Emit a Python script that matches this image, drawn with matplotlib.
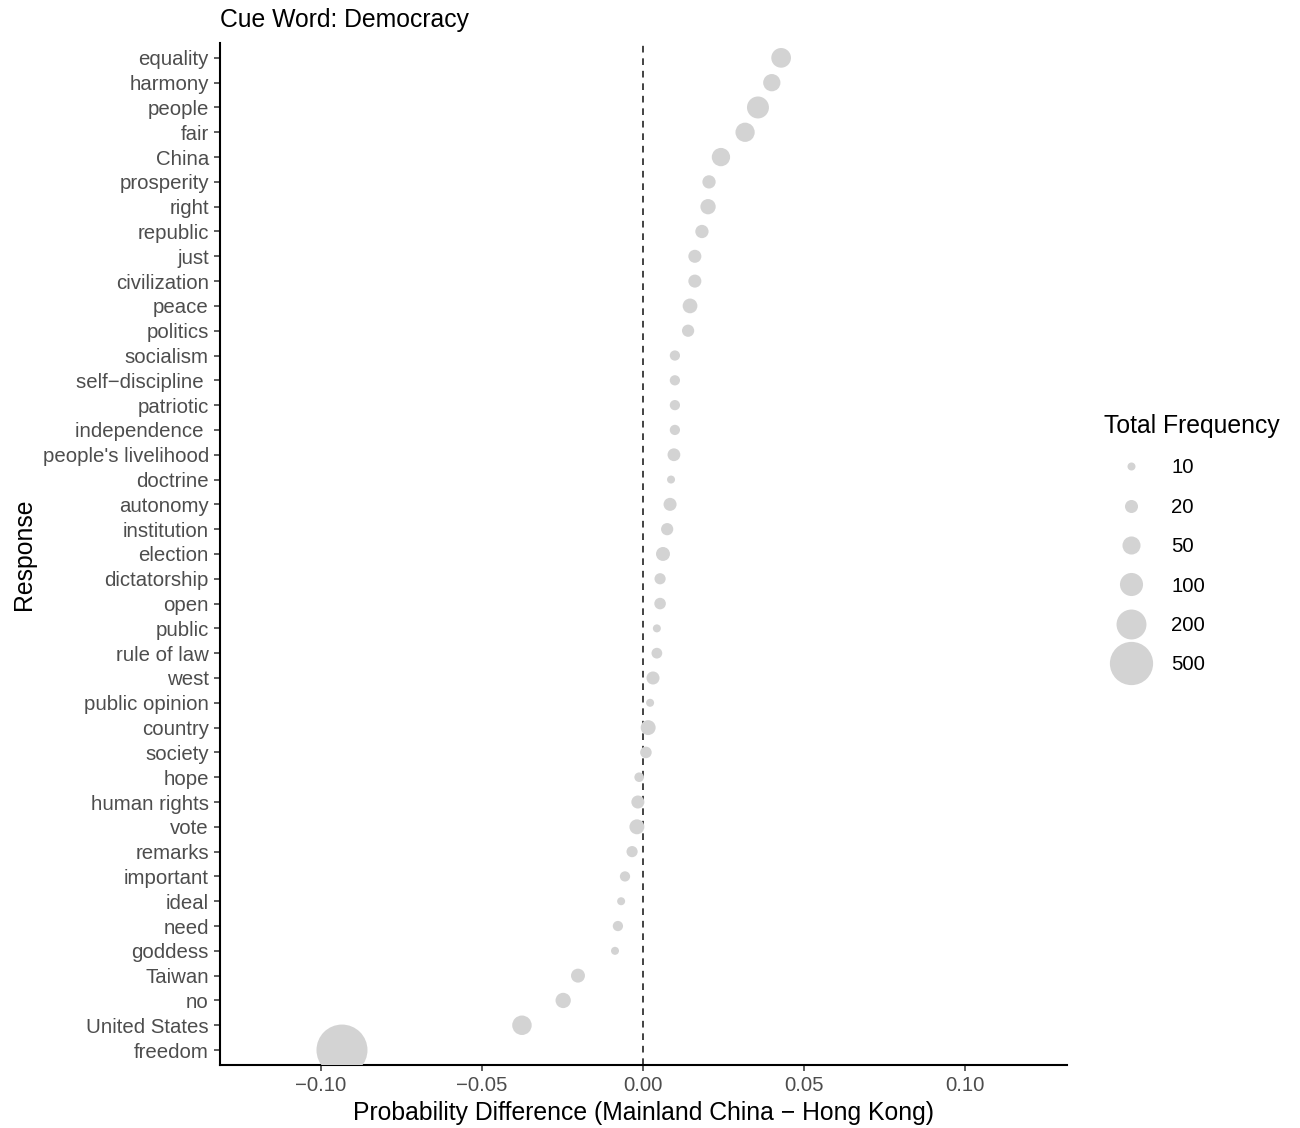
import numpy as np
import matplotlib
matplotlib.use("Agg")
import matplotlib.pyplot as plt
from matplotlib.lines import Line2D
from matplotlib.ticker import FuncFormatter

plt.rcParams['font.family'] = ['Liberation Sans', 'DejaVu Sans']

# Responses, ordered top to bottom
responses = ["equality", "harmony", "people", "fair", "China", "prosperity",
             "right", "republic", "just", "civilization", "peace", "politics",
             "socialism", "self\u2212discipline ", "patriotic", "independence ",
             "people's livelihood", "doctrine", "autonomy", "institution",
             "election", "dictatorship", "open", "public", "rule of law", "west",
             "public opinion", "country", "society", "hope", "human rights",
             "vote", "remarks", "important", "ideal", "need", "goddess",
             "Taiwan", "no", "United States", "freedom"]

# Probability difference (Mainland China - Hong Kong)
prob_diff = [0.0429, 0.0400, 0.0357, 0.0317, 0.0242, 0.0205,
             0.0202, 0.0183, 0.0161, 0.0161, 0.0146, 0.0140,
             0.0099, 0.0099, 0.0099, 0.0099,
             0.0096, 0.0087, 0.0084, 0.0075,
             0.0062, 0.0053, 0.0053, 0.0043, 0.0043, 0.0031,
             0.0022, 0.0016, 0.0009, -0.0012, -0.0016,
             -0.0019, -0.0034, -0.0056, -0.0068, -0.0078, -0.0087,
             -0.0202, -0.0248, -0.0376, -0.0935]

# Total frequency of each response
total_freq = [64, 44, 87, 60, 52, 21,
              31, 21, 20, 20, 28, 17,
              12, 12, 12, 12,
              19, 10, 20, 17,
              24, 14, 15, 10, 13, 20,
              10, 29, 15, 11, 20,
              29, 14, 12, 10, 12, 10,
              24, 31, 62, 740]

legend_breaks = [10, 20, 50, 100, 200, 500]

POINT_COL = "#D3D3D3"
DPI = 100
fmin, fmax = min(total_freq), max(total_freq)


def size_scale(v):
    # area-style size scale: diameter in px grows with sqrt of rescaled value
    v = np.asarray(v, dtype=float)
    d_px = 8 + 43 * np.sqrt((v - fmin) / (fmax - fmin))
    return d_px * 72.0 / DPI  # diameter in points


def fmt_tick(x, pos):
    s = "%.2f" % x
    return s.replace("-", "\u2212")


fig = plt.figure(figsize=(13, 11.28), dpi=DPI)
ax = fig.add_axes([0.1692, 0.0559, 0.6516, 0.906])

ypos = np.arange(len(responses))[::-1]
ax.scatter(prob_diff, ypos, s=size_scale(total_freq) ** 2, c=POINT_COL,
           edgecolors='none', zorder=3)
ax.axvline(0, color="#222222", lw=1.2, ls=(0, (4, 3.5)), zorder=2)

ax.set_xlim(-0.1314, 0.1317)
ax.set_ylim(-0.6, len(responses) - 0.4)
ax.set_xticks([-0.10, -0.05, 0.00, 0.05, 0.10])
ax.xaxis.set_major_formatter(FuncFormatter(fmt_tick))
ax.set_yticks(ypos)
ax.set_yticklabels(responses)

for side in ['top', 'right']:
    ax.spines[side].set_visible(False)
for side in ['left', 'bottom']:
    ax.spines[side].set_linewidth(1.5)
    ax.spines[side].set_color('black')
ax.tick_params(axis='both', length=4, width=1.1, color='#333333',
               labelcolor='#4D4D4D', labelsize=14.7, pad=4)

ax.set_xlabel("Probability Difference (Mainland China \u2212 Hong Kong)",
              fontsize=17.8, labelpad=4)
ax.set_ylabel("Response", fontsize=17.8, labelpad=5)
# fixed y keeps the title from being auto-shifted
ax.set_title("Cue Word: Democracy", loc='left', fontsize=17.8, y=1.0157, pad=0)

handles = [Line2D([], [], marker='o', ls='', color=POINT_COL, mec='none',
                  markersize=float(size_scale(b))) for b in legend_breaks]
leg = ax.legend(handles, [str(b) for b in legend_breaks], title="Total Frequency",
                loc='upper left', bbox_to_anchor=(1.034, 0.645), frameon=False,
                fontsize=14.7, title_fontsize=17.8, labelspacing=1.0,
                handlelength=2.65, handletextpad=0.64, borderaxespad=0)
leg._legend_box.align = "left"

fig.savefig("out.png", dpi=DPI)
